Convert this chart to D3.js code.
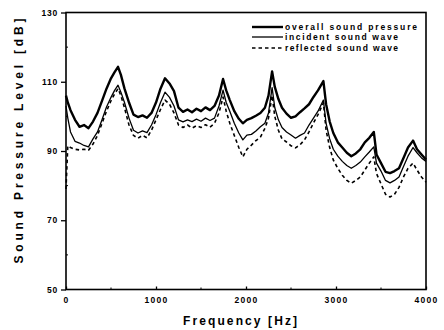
<!DOCTYPE html>
<html>
<head>
<meta charset="utf-8">
<script src="https://cdn.jsdelivr.net/npm/d3@7"></script>
<style>
  html, body { margin: 0; padding: 0; background: #fff; }
  svg { display: block; }
  text { font-family: "Liberation Sans", Arial, sans-serif; font-weight: bold; fill: #000; }
</style>
</head>
<body>
<svg id="chart" width="444" height="330"></svg>
<script>
// ---- data ----
const frequency = [0, 20, 50, 100, 150, 200, 250, 300, 350, 400, 450, 500, 540, 578, 610, 650, 700, 750, 800, 850,
  900, 950, 1000, 1050, 1100, 1150, 1200, 1250, 1300, 1350, 1400, 1450, 1500, 1550, 1600, 1650, 1700, 1745, 1780, 1820,
  1870, 1920, 1965, 2010, 2060, 2110, 2160, 2210, 2250, 2290, 2320, 2360, 2400, 2450, 2500, 2550, 2600, 2650, 2700, 2750,
  2800, 2860, 2890, 2930, 2970, 3020, 3070, 3120, 3170, 3220, 3270, 3320, 3370, 3420, 3450, 3500, 3550, 3600, 3650, 3700,
  3750, 3800, 3856, 3900, 3950, 4000];

const overallSoundPressure = [106, 104, 101.8, 99, 97, 97.5, 96.6, 98.5, 101, 104.5, 108, 111, 112.8, 114.3, 112, 108, 104, 100.5, 99.8, 100.3,
  99.6, 101, 104, 108, 111, 109.5, 107.3, 102.5, 101.3, 102, 101.2, 102.2, 101.5, 102.6, 101.8, 103, 106, 110.8, 107.5, 104.7,
  101.5, 99.3, 98, 99, 99.5, 100.2, 101, 102.5, 106, 113, 108.5, 105, 102.5, 100.8, 99.6, 100, 101.2, 102.3, 103.5, 105.6,
  107.5, 110.2, 103.5, 98.5, 95.2, 92.5, 91, 89.5, 88.5, 89.3, 90.5, 92.5, 93.8, 95.5, 89, 86.5, 84, 83.6, 84.2, 85,
  88, 91, 93, 90.5, 89, 87.5];

const incidentSoundWave = [103, 99.5, 95.5, 92.8, 92.3, 91.6, 91.2, 93.5, 95.5, 99, 102.7, 105.5, 107.5, 109, 107, 104, 99.5, 96, 95.2, 95.8,
  95.3, 97.5, 100.5, 104, 107, 105.5, 103, 99, 98.4, 99, 98.5, 99.2, 98.6, 99.5, 98.8, 99.5, 103, 107.6, 104, 101.5,
  98, 95.2, 93.2, 94.6, 94.8, 95.8, 97, 98, 101, 108.3, 102.5, 99, 96.8, 95.5, 94.6, 93.7, 94.5, 95.2, 97.5, 99.5,
  101.5, 104.7, 98, 93.5, 90.5, 88.5, 87, 85.8, 85, 85.8, 86.8, 88.3, 89.7, 91.2, 86.5, 84.2, 81.5, 80.8, 81.5, 82.5,
  85.5, 88.5, 91, 89.5, 88, 87];

const reflectedSoundWave = [79, 91.5, 91, 90.5, 90.3, 90.5, 90.2, 92, 94.5, 98, 101.5, 104.5, 106.5, 108, 106, 102.5, 97.5, 94.5, 93.7, 94.5,
  93.8, 96, 99, 102, 104.7, 103.5, 101, 97.5, 96.8, 97.5, 96.6, 97.3, 96.8, 97.6, 96.9, 98, 101, 105.6, 101.5, 98,
  94.5, 91, 88.3, 90.5, 91.7, 93, 94, 96.5, 99.5, 106, 100, 96, 93.5, 92.6, 91.5, 90.9, 91.8, 93.2, 95.5, 98.1,
  100.5, 103.9, 96, 91, 87.4, 85, 83, 81.5, 80.7, 81.5, 82.5, 84.5, 86.5, 88.3, 83.5, 80.5, 77.5, 76.7, 77.5, 79.5,
  82.5, 85, 86.5, 84.5, 82.5, 81];

const seriesNames = ["overall sound pressure", "incident sound wave", "reflected sound wave"];
const xTickValues = [0, 1000, 2000, 3000, 4000];
const xMinorTicks = [500, 1500, 2500, 3500];
const yTickValues = [50, 70, 90, 110, 130];
const yMinorTicks = [60, 80, 100, 120];
const xTitle = "Frequency [Hz]";
const yTitle = "Sound Pressure Level [dB]";

// ---- layout ----
const svg = d3.select("#chart");
const pLeft = 66, pRight = 426, pTop = 12.5, pBottom = 289.5;
const x = d3.scaleLinear().domain([0, 4000]).range([pLeft, pRight]);
const y = d3.scaleLinear().domain([50, 130]).range([pBottom, pTop]);

// frame
svg.append("rect").attr("x", pLeft).attr("y", pTop).attr("width", pRight - pLeft).attr("height", pBottom - pTop)
  .attr("fill", "none").attr("stroke", "#000").attr("stroke-width", 1.6);

// y axis
const yAxis = svg.append("g").attr("transform", `translate(${pLeft},0)`)
  .call(d3.axisLeft(y).tickValues(yTickValues).tickSize(5).tickPadding(3));
yAxis.select(".domain").remove();
yAxis.selectAll("line").attr("stroke", "#000").attr("stroke-width", 1.3);
yAxis.selectAll("text").style("font-size", "8.5px").style("letter-spacing", "0.8px")
  .style("font-family", '"Liberation Sans", Arial, sans-serif').style("font-weight", "bold");
svg.append("g").selectAll("line").data(yMinorTicks).join("line")
  .attr("x1", pLeft).attr("x2", pLeft + 2).attr("y1", d => y(d)).attr("y2", d => y(d))
  .attr("stroke", "#000").attr("stroke-width", 1);

// x axis
const xAxis = svg.append("g").attr("transform", `translate(0,${pBottom})`)
  .call(d3.axisBottom(x).tickValues(xTickValues).tickSize(-3).tickPadding(7).tickFormat(d3.format("d")));
xAxis.select(".domain").remove();
xAxis.selectAll("line").attr("stroke", "#000").attr("stroke-width", 1.3);
xAxis.selectAll("text").style("font-size", "8.5px").style("letter-spacing", "1.3px")
  .style("font-family", '"Liberation Sans", Arial, sans-serif').style("font-weight", "bold");
svg.append("g").selectAll("line").data(xMinorTicks).join("line")
  .attr("x1", d => x(d)).attr("x2", d => x(d)).attr("y1", pBottom).attr("y2", pBottom - 2)
  .attr("stroke", "#000").attr("stroke-width", 1);

// titles
svg.append("text").attr("x", 240).attr("y", 325).attr("text-anchor", "middle")
  .style("font-size", "12px").attr("textLength", 114).attr("lengthAdjust", "spacing").text(xTitle);
svg.append("text").attr("transform", "translate(23,141) rotate(-90)").attr("text-anchor", "middle")
  .style("font-size", "12px").attr("textLength", 245).attr("lengthAdjust", "spacing").text(yTitle);

// lines
const styles = [
  { w: 2.4, dash: null },
  { w: 1.3, dash: null },
  { w: 1.6, dash: "3.5,3" }
];
const seriesValues = [overallSoundPressure, incidentSoundWave, reflectedSoundWave];
const line = d3.line().x(d => x(d[0])).y(d => y(d[1]));
seriesValues.forEach((vals, i) => {
  const pts = frequency.map((f, j) => [f, vals[j]]);
  svg.append("path").datum(pts).attr("d", line).attr("fill", "none")
    .attr("stroke", "#000").attr("stroke-width", styles[i].w)
    .attr("stroke-linejoin", "round")
    .attr("stroke-dasharray", styles[i].dash);
});

// legend
const legendY = [26, 36, 47];
const legendTextLen = [132, 113, 113];
seriesNames.forEach((name, i) => {
  svg.append("line").attr("x1", 252).attr("x2", 283).attr("y1", legendY[i] + 1).attr("y2", legendY[i] + 1)
    .attr("stroke", "#000").attr("stroke-width", styles[i].w).attr("stroke-dasharray", styles[i].dash);
  svg.append("text").attr("x", 285).attr("y", legendY[i] + 3.5)
    .style("font-size", "8.5px").attr("textLength", legendTextLen[i]).attr("lengthAdjust", "spacing")
    .text(name);
});
</script>
</body>
</html>
